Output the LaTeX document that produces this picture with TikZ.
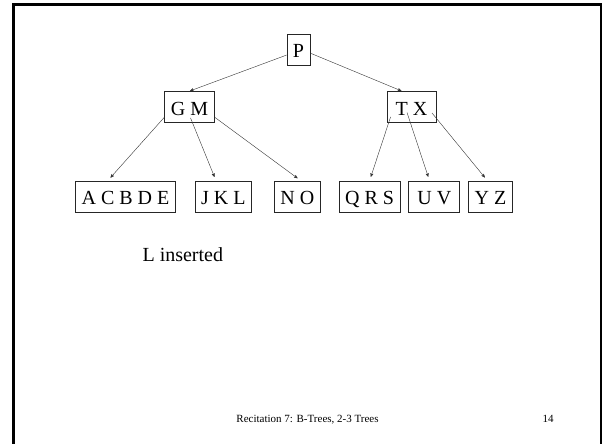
\documentclass[tikz,border=0pt]{standalone}
\usepackage{fontspec}
\setmainfont{Liberation Serif}
\usetikzlibrary{arrows,positioning}

\tikzset{
  keybox/.style={draw=black!85,line width=0.8pt,inner xsep=6pt,inner ysep=0pt,
                 text height=16pt,text depth=0pt,
                 minimum height=31pt,font=\fontsize{20}{24}\selectfont},
}

\begin{document}
\begin{tikzpicture}[x=1pt,y=-1pt,->,>=stealth',shorten >=4pt,thin,
                    draw=black!80]

  \useasboundingbox (0,0) rectangle (602,444);
  \clip (0,0) rectangle (602,444);
  \draw[-,black,line width=2.6pt] (13.5,460) |- (601,4.5) -- (601,460);

  \node[keybox]                                      (p)     at (298.5,50)  {P};
  \node[keybox]                                      (gm)    at (189.5,107) {G M};
  \node[keybox,minimum width=49pt]                   (tx)    at (411.5,107) {T X};
  \node[keybox,minimum width=99pt]                   (acbde) at (125.5,196.5) {A C B D E};
  \node[keybox]                     [right=19pt of acbde] (jkl) {J K L};
  \node[keybox]                     [right=22pt of jkl]   (no)  {N O};
  \node[keybox]                     [right=18pt of no]    (qrs) {Q R S};
  \node[keybox,minimum width=51pt]  [right=8pt of qrs]    (uv)  {U V};
  \node[keybox]                     [right=8pt of uv]     (yz)  {Y Z};

  \path[shorten >=0.5pt]
        (p.203) edge (gm.north)
        (p.345) edge (tx.121);

  \path (gm.202)                            edge (acbde.138)
        ([xshift=1pt,yshift=5pt]gm.south)   edge (jkl.115)
        (gm.338)                            edge (no.78)
        ([xshift=4pt,yshift=6pt]tx.south west) edge (qrs.north)
        ([xshift=-4.5pt,yshift=-5.5pt]tx.center) edge (uv.107)
        ([xshift=20.5pt,yshift=-6pt]tx.center)   edge (yz.101);

  \node[anchor=base west,font=\fontsize{20}{24}\selectfont] (note) at (139,261) {L inserted};
  \node[anchor=base,font=\fontsize{11}{13}\selectfont] (title) at (307.5,422)
       {Recitation 7: B-Trees, 2-3 Trees};
  \node[anchor=base,font=\fontsize{11}{13}\selectfont] (page) at (548,422) {14};
\end{tikzpicture}
\end{document}
